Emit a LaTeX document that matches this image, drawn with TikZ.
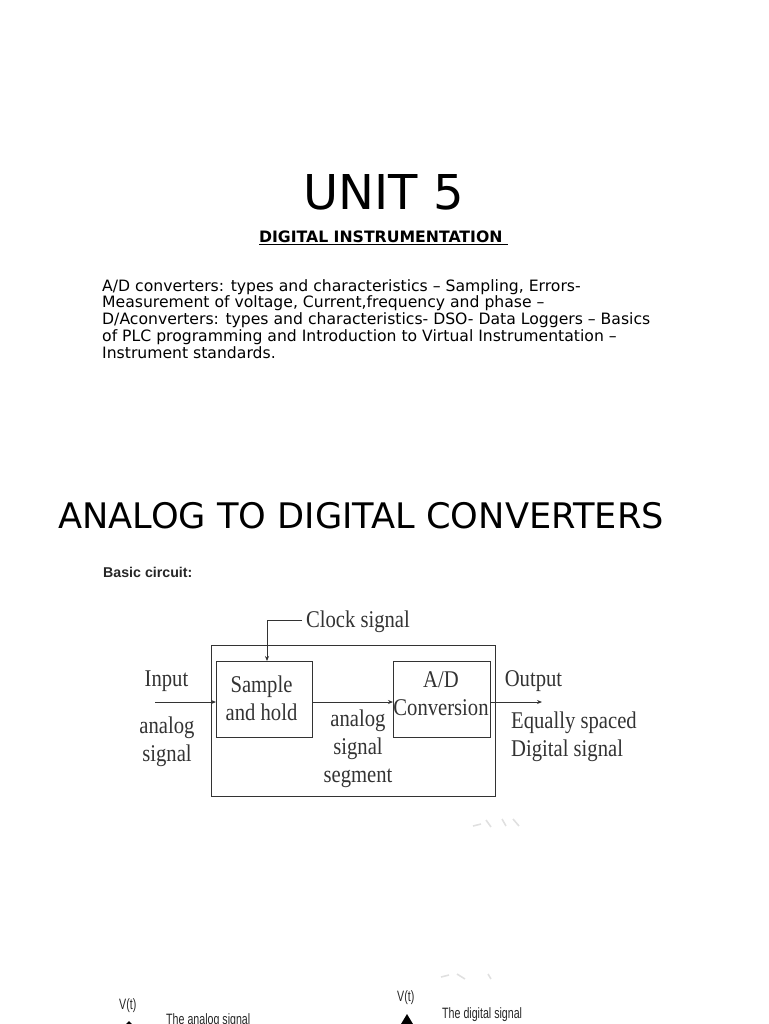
\documentclass[tikz,border=0pt]{standalone}
\usepackage{fontspec}
\setmainfont{DejaVu Sans}
\newfontfamily\diagramfont[FakeStretch=0.86]{Liberation Serif}
\newfontfamily\narrowfont[FakeStretch=0.71]{Liberation Sans}
\newfontfamily\basicfont{Liberation Sans}
\usepackage{tikz}
\usetikzlibrary{arrows.meta, positioning}
\newcommand{\fsz}[1]{\fontsize{#1}{#1}\selectfont}
\definecolor{InkGrey}{HTML}{333333}
\tikzset{
  blockbox/.style={rectangle, draw=InkGrey, line width=0.9pt, inner sep=0pt, anchor=north west},
  sigtext/.style={font=\diagramfont\fontsize{24}{28}\selectfont, text=InkGrey, align=center, inner sep=0pt},
  smalltext/.style={font=\narrowfont\fsz{15}, text=black!85, inner sep=0pt, anchor=base west},
  arrow/.style={-{Stealth[length=5pt,width=4pt]}, line width=0.8pt, InkGrey},
  smudge/.style={line width=1.6pt, black!12}
}
\begin{document}
\begin{tikzpicture}[x=1pt, y=-1pt]
  \useasboundingbox (0,0) rectangle (768,1024);
  % titles
  \node[font=\fsz{48}, inner sep=0pt] (title) at (383.5,192) {UNIT 5};
  \node[font=\bfseries\fsz{15.7}, inner sep=0pt] (subtitle) at (383.5,238) {\underline{DIGITAL INSTRUMENTATION\ }};
  \node[font=\fsz{15.64}, align=left, inner sep=0pt, anchor=north west] (syllabus) at (102,279) {A/D converters: types and characteristics -- Sampling, Errors-\\[1.1pt]Measurement of voltage, Current,frequency and phase --\\[1.1pt]D/Aconverters: types and characteristics- DSO- Data Loggers -- Basics\\[1.1pt]of PLC programming and Introduction to Virtual Instrumentation --\\[1.1pt]Instrument standards.};
  \node[font=\fsz{35.2}, inner sep=0pt] (heading) at (361,516) {ANALOG TO DIGITAL CONVERTERS};
  \node[font=\basicfont\bfseries\fsz{14.2}, text=black!85, inner sep=0pt, anchor=west] (basic) at (103,572) {Basic circuit:};

  % block diagram
  \node[blockbox, minimum width=284pt, minimum height=151pt] (outer) at (211,645) {};
  \node[blockbox, minimum width=96pt, minimum height=76pt] (sample) at (216,661) {};
  \node[blockbox, minimum width=97pt, minimum height=76pt] (conv) at (393,661) {};
  \node[sigtext] (sampletext) at (261.5,698.5) {Sample\\and hold};
  \node[sigtext] (convtext) at (441,693.5) {A/D\\Conversion};
  \node[sigtext] (clock) at (358,621.5) {Clock signal};
  \node[sigtext] (input) at (166.5,681.5) {Input};
  \node[sigtext] (analog) at (167,742) {analog\\signal};
  \node[sigtext] (segment) at (358,749) {analog\\signal\\segment};
  \node[sigtext] (output) at (533.5,681.5) {Output};
  \node[sigtext, align=left, anchor=west] (spaced) at (511,737) {Equally spaced\\Digital signal};

  \coordinate (instart) at (155,702);
  \coordinate (outend) at (542,702);
  \coordinate (clockend) at (267,661);
  \coordinate (clockstart) at (302,620);
  \draw[arrow] (instart) -- (instart -| sample.west);
  \draw[arrow] (instart -| sample.east) -- (instart -| conv.west);
  \draw[arrow] (instart -| conv.east) -- (outend);
  \draw[arrow] (clockstart) -| (clockend);

  % waveforms, cut off by the page
  \node[smalltext] (vleft) at (119,1009) {V(t)};
  \node[smalltext] (vright) at (397,1001) {V(t)};
  \node[smalltext] (analogcap) at (166,1024) {The analog signal};
  \node[smalltext] (digitalcap) at (442,1018) {The digital signal};
  \fill[black] (407,1014) -- (401,1024) -- (413,1024) -- cycle;
  \fill[black] (129,1021) -- (126,1024) -- (132,1024) -- cycle;

  % faint marks
  \draw[smudge] (473,826) -- (481,824) (486,820) -- (491,827) (502,819) -- (506,826) (513,819) -- (519,826);
  \draw[smudge] (441,977) -- (449,975) (457,974) -- (465,979) (488,974) -- (491,979);
\end{tikzpicture}
\end{document}
